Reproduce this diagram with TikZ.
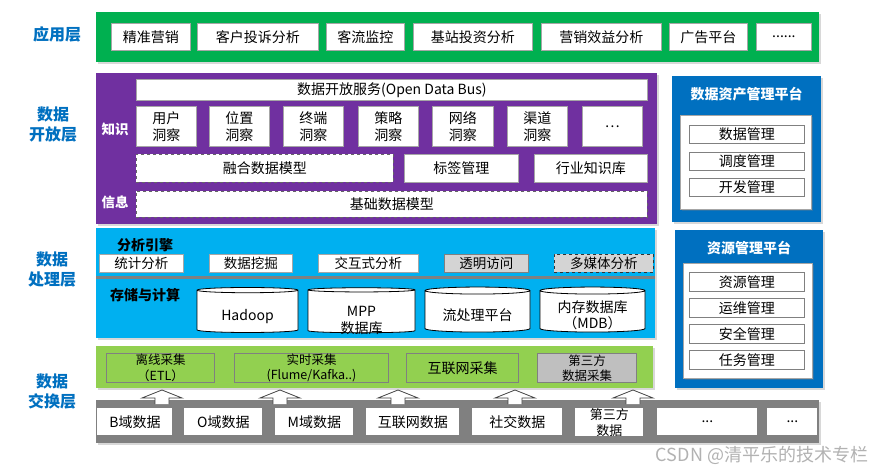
\documentclass[tikz,border=0pt]{standalone}
\usepackage{fontspec}
\setmainfont{Noto Sans CJK SC}
\usetikzlibrary{shapes.geometric,shadows}
\definecolor{appgreen}{HTML}{00B050}
\definecolor{openpurple}{HTML}{7030A0}
\definecolor{platblue}{HTML}{0070C0}
\definecolor{proccyan}{HTML}{00B0F0}
\definecolor{collgreen}{HTML}{92D050}
\definecolor{srcgray}{HTML}{808080}
\definecolor{boxgray}{HTML}{A6A6A6}
\definecolor{fillgray}{HTML}{D4D4D4}
\begin{document}
\begin{tikzpicture}[x=1pt, y=-1pt,
  band/.style={fill=#1, draw=none, inner sep=0, anchor=north west, drop shadow={shadow xshift=2pt, shadow yshift=-2pt, opacity=0.3}},
  wbox/.style={fill=white, draw=boxgray, line width=0.8pt, inner sep=0, anchor=north west, align=center, font=\fontsize{14}{17}\selectfont},
  dbox/.style={wbox, draw=gray!80!black, dashed},
  gbox/.style={wbox, fill=fillgray, draw=srcgray},
  ebox/.style={wbox, minimum height=18, font=\fontsize{13.5}{15}\selectfont},
  ibox/.style={wbox, draw=srcgray, minimum width=115, font=\fontsize{14}{15}\selectfont},
  panel/.style={wbox, draw=boxgray, drop shadow={shadow xshift=1.5pt, shadow yshift=-1.5pt, opacity=0.3}},
  cbox/.style={wbox, fill=none, draw=srcgray, line width=1pt, minimum height=29, font=\fontsize{12.5}{15.5}\selectfont},
  sbox/.style={wbox, draw=none, minimum height=27},
  layername/.style={text=platblue, align=center, font=\fontsize{16}{20}\selectfont\bfseries},
  sidename/.style={text=white, font=\fontsize{13.5}{16}\selectfont\bfseries},
  secname/.style={text=black, font=\fontsize{14}{16}\selectfont\bfseries},
  store/.style={cylinder, shape border rotate=90, aspect=0.1, draw=black, fill=white, line width=0.8pt, inner sep=0, text depth=0pt, font=\fontsize{14}{15}\selectfont},
  uparrow/.style={draw=darkgray, fill=white, line width=0.8pt},
  wmtext/.style={text=gray!60, font=\fontsize{18}{20}\selectfont}]
\useasboundingbox[fill=white] (0,0) rectangle (893,474);
\node[layername] (lapp) at (57,34) {应用层};
\node[layername] (lopen) at (53,125) {数据\\开放层};
\node[layername] (lproc) at (52,270) {数据\\处理层};
\node[layername] (lexch) at (52,391) {数据\\交换层};
\node[band=appgreen, minimum width=723, minimum height=50] (applayer) at (96,12) {};
\node[wbox, minimum width=79, minimum height=27] (app1) at (111,23) {精准营销};
\node[wbox, minimum width=121, minimum height=27] (app2) at (197,23) {客户投诉分析};
\node[wbox, minimum width=78, minimum height=27] (app3) at (326,23) {客流监控};
\node[wbox, minimum width=119, minimum height=27] (app4) at (413,23) {基站投资分析};
\node[wbox, minimum width=120, minimum height=27] (app5) at (541,23) {营销效益分析};
\node[wbox, minimum width=78, minimum height=27] (app6) at (669,23) {广告平台};
\node[wbox, minimum width=55, minimum height=27] (app7) at (756,23) {......};
\node[band=openpurple, minimum width=561, minimum height=151] (openlayer) at (96,73) {};
\node[sidename] (lknow) at (115,129) {知识};
\node[sidename] (linfo) at (115,202) {信息};
\node[wbox, minimum width=511, minimum height=21] (bus) at (136,79) {数据开放服务(Open Data Bus)};
\node[wbox, minimum width=60, minimum height=40] (ins1) at (136,106) {用户\\洞察};
\node[wbox, minimum width=60, minimum height=40] (ins2) at (209,106) {位置\\洞察};
\node[wbox, minimum width=60, minimum height=40] (ins3) at (283,106) {终端\\洞察};
\node[wbox, minimum width=60, minimum height=40] (ins4) at (358,106) {策略\\洞察};
\node[wbox, minimum width=61, minimum height=40] (ins5) at (432,106) {网络\\洞察};
\node[wbox, minimum width=60, minimum height=40] (ins6) at (507,106) {渠道\\洞察};
\node[wbox, minimum width=60, minimum height=40] (ins7) at (582,106) {…};
\node[dbox, minimum width=257, minimum height=28] (fuse) at (136,154) {融合数据模型};
\node[wbox, minimum width=114, minimum height=28] (tags) at (404,154) {标签管理};
\node[wbox, minimum width=113, minimum height=28] (trade) at (534,154) {行业知识库};
\node[dbox, minimum width=511, minimum height=26] (base) at (136,191) {基础数据模型};
\node[band=platblue, minimum width=149, minimum height=146] (assetplat) at (672,76) {};
\node[sidename, font=\fontsize{14}{16}\selectfont\bfseries] (ltitle1) at (746.5,94) {数据资产管理平台};
\node[panel, minimum width=131, minimum height=94] (assetpanel) at (680,115) {};
\node[ibox, minimum height=18] (am1) at (689,125) {数据管理};
\node[ibox, minimum height=18] (am2) at (689,152) {调度管理};
\node[ibox, minimum height=18] (am3) at (689,178) {开发管理};
\node[band=proccyan, minimum width=559, minimum height=110] (proclayer) at (96,228) {};
\draw[srcgray, line width=3pt] (96,277) -- (655,277);
\node[secname] (lengine) at (145,245) {分析引擎};
\node[ebox, minimum width=84] (eng1) at (99,254) {统计分析};
\node[ebox, minimum width=83] (eng2) at (209,254) {数据挖掘};
\node[ebox, minimum width=100] (eng3) at (318,254) {交互式分析};
\node[ebox, fill=fillgray, draw=srcgray, minimum width=84] (eng4) at (444,254) {透明访问};
\node[ebox, fill=fillgray, draw=black!80, dashed, minimum width=99] (eng5) at (554,254) {多媒体分析};
\node[secname] (lstore) at (145,295) {存储与计算};
\node[store, text height=18, minimum width=101, minimum height=45] (st1) at (247.5,311.5) {Hadoop};
\node[store, text height=0pt, minimum width=107, minimum height=45] (st2) at (361.5,311.5) {\raisebox{-14pt}[0pt][0pt]{\begin{tabular}{@{}c@{}}MPP\\数据库\end{tabular}}};
\node[store, text height=17, minimum width=105, minimum height=45] (st3) at (477.5,311.5) {流处理平台};
\node[store, text height=0pt, minimum width=105, minimum height=45] (st4) at (592.5,311.5) {\raisebox{-9pt}[0pt][0pt]{\begin{tabular}{@{}c@{}}内存数据库\\（MDB）\end{tabular}}};
\node[band=platblue, minimum width=148, minimum height=158] (resplat) at (675,230) {};
\node[sidename, font=\fontsize{14}{16}\selectfont\bfseries] (ltitle2) at (749,248) {资源管理平台};
\node[panel, minimum width=129, minimum height=115] (respanel) at (683,263) {};
\node[ibox, minimum height=19] (rm1) at (689,272) {资源管理};
\node[ibox, minimum height=19] (rm2) at (689,298) {运维管理};
\node[ibox, minimum height=19] (rm3) at (689,324) {安全管理};
\node[ibox, minimum height=19] (rm4) at (689,350) {任务管理};
\node[band=collgreen, minimum width=557, minimum height=42] (colllayer) at (96,346) {};
\node[cbox, minimum width=108] (col1) at (106,353) {离线采集\\（ETL）};
\node[cbox, minimum width=154] (col2) at (234,353) {实时采集\\(Flume/Kafka..)};
\node[cbox, minimum width=112, font=\fontsize{14}{15}\selectfont] (col3) at (406,353) {互联网采集};
\node[cbox, fill=fillgray!90!black, minimum width=99] (col4) at (537,353) {第三方\\数据采集};
\node[band=srcgray, minimum width=723, minimum height=43] (srclayer) at (96,400) {};
\node[sbox, minimum width=75] (src1) at (97,408) {B域数据};
\node[sbox, minimum width=78] (src2) at (184,408) {O域数据};
\node[sbox, minimum width=78] (src3) at (275,408) {M域数据};
\node[sbox, minimum width=93] (src4) at (366,408) {互联网数据};
\node[sbox, minimum width=90] (src5) at (472,408) {社交数据};
\node[sbox, minimum width=68, font=\fontsize{13}{16}\selectfont] (src6) at (575,408) {第三方\\数据};
\node[sbox, minimum width=100] (src7) at (657,408) {...};
\node[sbox, minimum width=50] (src8) at (767,408) {...};
\coordinate (up1) at (162,404);
\coordinate (up2) at (280,404);
\coordinate (up3) at (398,404);
\coordinate (up4) at (515,404);
\coordinate (up5) at (633,404);
\draw[uparrow] (up1) ++(-7,0) -- ++(0,-6) -- ++(-13,0) -- ++(20,-8) -- ++(20,8) -- ++(-13,0) -- ++(0,6);
\draw[uparrow] (up2) ++(-7,0) -- ++(0,-6) -- ++(-13,0) -- ++(20,-8) -- ++(20,8) -- ++(-13,0) -- ++(0,6);
\draw[uparrow] (up3) ++(-7,0) -- ++(0,-6) -- ++(-13,0) -- ++(20,-8) -- ++(20,8) -- ++(-13,0) -- ++(0,6);
\draw[uparrow] (up4) ++(-7,0) -- ++(0,-6) -- ++(-13,0) -- ++(20,-8) -- ++(20,8) -- ++(-13,0) -- ++(0,6);
\draw[uparrow] (up5) ++(-7,0) -- ++(0,-6) -- ++(-13,0) -- ++(20,-8) -- ++(20,8) -- ++(-13,0) -- ++(0,6);
\node[wmtext] (wm) at (762,455) {CSDN @清平乐的技术专栏};
\end{tikzpicture}
\end{document}
